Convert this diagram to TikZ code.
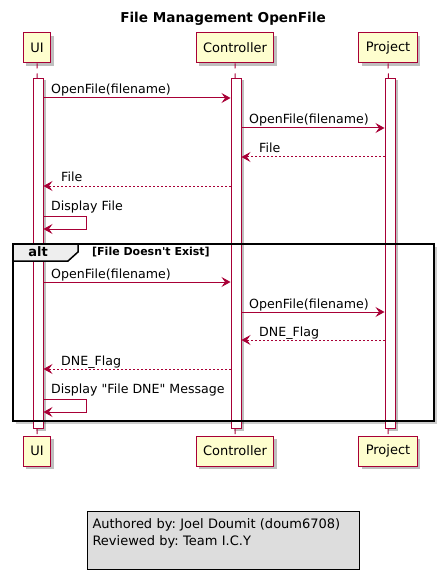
\documentclass[tikz,border=0pt]{standalone}
\usepackage{fontspec}
\setmainfont{DejaVu Sans}
\usetikzlibrary{positioning, calc, arrows.meta, shadows}

\definecolor{umlred}{HTML}{A80036}
\definecolor{umlfill}{HTML}{FEFECE}
\definecolor{notefill}{HTML}{DDDDDD}
\definecolor{tabfill}{HTML}{EEEEEE}

\tikzset{
    part/.style={draw=umlred, fill=umlfill, line width=1pt, minimum height=30pt, inner xsep=7pt,
        font=\fontsize{13}{15}\selectfont,
        drop shadow={shadow xshift=3pt, shadow yshift=-3pt, fill=black, opacity=0.25}},
    actbar/.style={draw=umlred, fill=white, line width=1pt, minimum width=10pt, minimum height=350pt,
        anchor=north, inner sep=0pt,
        drop shadow={shadow xshift=3pt, shadow yshift=-2pt, fill=black, opacity=0.25}},
    life/.style={draw=umlred, line width=1pt, dash pattern=on 5pt off 5pt},
    msg/.style={draw=umlred, line width=1pt, -{Stealth[length=9pt, width=10pt, inset=3.5pt]}},
    ret/.style={msg, dash pattern=on 2pt off 2pt},
    lbl/.style={anchor=base west, inner sep=0pt, font=\fontsize{12.6}{15}\selectfont},
    note/.style={draw=black, fill=notefill, line width=1pt, anchor=north west, align=left,
        minimum width=272pt, minimum height=58pt, text width=262pt, inner xsep=5pt, inner ysep=3pt,
        font=\fontsize{13}{17}\selectfont}
}

\begin{document}
\frenchspacing
\begin{tikzpicture}[x=1pt, y=-1pt]
        \useasboundingbox (0,0) rectangle (444,580);

        \node[font=\bfseries\fontsize{13.6}{16}\selectfont, anchor=base] (title) at (223,23) {File Management OpenFile};

        % participants
        \node[part] (ui) at (37,48) {UI};
        \node[part] (ctrl) at (235,48) {Controller};
        \node[part] (proj) at (388,48) {Project};
        \node[part] (uib) at (37,451) {UI};
        \node[part] (ctrlb) at (235,451) {Controller};
        \node[part] (projb) at (388,451) {Project};

        % shadow of the alt frame
        \fill[black, opacity=0.2] (16,421) rectangle (437,424);
        \fill[black, opacity=0.2] (434,247) rectangle (437,421);

        % activations
        \node[actbar] (uia) at (38,78) {};
        \node[actbar] (ctrla) at (236,78) {};
        \node[actbar] (proja) at (390,78) {};

        \draw[life] (ui) -- (uia);
        \draw[life] (ctrl) -- (ctrla);
        \draw[life] (proj) -- (proja);
        \draw[life] (uia) -- (uib);
        \draw[life] (ctrla) -- (ctrlb);
        \draw[life] (proja) -- (projb);

        % first part
        \node[lbl] (m1) at (51,94) {OpenFile(filename)};
        \draw[msg] (uia.east |- 0,98) -- (ctrla.west |- 0,98);
        \node[lbl] (m2) at (249,124) {OpenFile(filename)};
        \draw[msg] (ctrla.east |- 0,128) -- (proja.west |- 0,128);
        \node[lbl] (m3) at (259,153) {File};
        \draw[ret] (proja.west |- 0,157) -- (ctrla.east |- 0,157);
        \node[lbl] (m4) at (61,182) {File};
        \draw[ret] (ctrla.west |- 0,186) -- (uia.east |- 0,186);
        \node[lbl] (m5) at (51,210) {Display File};
        \coordinate (s1) at (86,216);
        \draw[msg] (uia.east |- 0,216) -- (s1) |- (uia.east |- 0,229);

        % alt frame
        \draw[line width=1.5pt] (13,244) rectangle (434,421);
        \filldraw[fill=tabfill, draw=black, line width=1.5pt] (13,244) -- (78,244) -- (78,252) -- (68,261) -- (13,261) -- cycle;
        \node[font=\bfseries\fontsize{13}{15}\selectfont, anchor=base] (alt) at (38,256) {alt};
        \node[font=\bfseries\fontsize{11}{13}\selectfont, anchor=base west, inner sep=0pt] (guard) at (92,255) {[File Doesn\textquotesingle t Exist]};

        \node[lbl] (m6) at (51,278) {OpenFile(filename)};
        \draw[msg] (uia.east |- 0,282) -- (ctrla.west |- 0,282);
        \node[lbl] (m7) at (249,308) {OpenFile(filename)};
        \draw[msg] (ctrla.east |- 0,312) -- (proja.west |- 0,312);
        \node[lbl] (m8) at (259,336) {DNE\_Flag};
        \draw[ret] (proja.west |- 0,340) -- (ctrla.east |- 0,340);
        \node[lbl] (m9) at (61,365) {DNE\_Flag};
        \draw[ret] (ctrla.west |- 0,369) -- (uia.east |- 0,369);
        \node[lbl] (m10) at (51,393) {Display \textquotedbl File DNE\textquotedbl{} Message};
        \coordinate (s2) at (86,399);
        \draw[msg] (uia.east |- 0,399) -- (s2) |- (uia.east |- 0,412);

        % legend
        \node[note] (legend) at (87,511) {Authored by: Joel Doumit (doum6708)\\Reviewed by: Team I.C.Y\\\mbox{}};
    \end{tikzpicture}
\end{document}
